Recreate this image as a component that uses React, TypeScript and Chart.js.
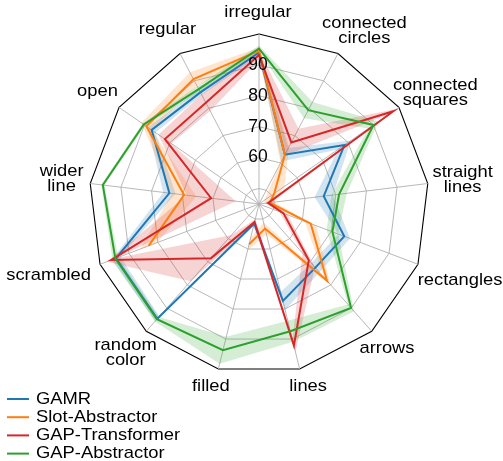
import React, { useEffect, useRef } from 'react';
import { Chart, registerables } from 'chart.js';

Chart.register(...registerables);

// ---------- data ----------
const categories: (string | string[])[] = [
  'irregular',
  ['connected', 'circles'],
  ['connected', 'squares'],
  ['straight', 'lines'],
  'rectangles',
  'arrows',
  'lines',
  'filled',
  ['random', 'color'],
  'scrambled',
  ['wider', 'line'],
  'open',
  'regular',
];

const seriesNames = ['GAMR', 'Slot-Abstractor', 'GAP-Transformer', 'GAP-Abstractor'];

const gamrMean = [94.0, 63.0, 78.6, 66.1, 74.5, 72.5, 77.3, 51.5, 94.6, 94.5, 74.2, 87.2, 85.8];
const gamrStd = [1, 2.5, 2.5, 3, 2, 2, 3, 1, 1, 1.5, 2, 1.5, 1];

const slotMean: (number | null)[] = [94.6, 63.0, 51.0, 48.5, 62.9, 78.2, 53.2, 58.4, null, 83.2, 69.4, 89.3, 90.6];
const slotStd: (number | null)[] = [1, 3, 4, 1.5, 2, 1.5, 2, 2, null, 3, 4, 2, 2.5];

const gapTMean = [93.2, 67.5, 97.8, 48.0, 53.5, 69.3, 92.2, 51.0, 68.4, 96.1, 60.6, 82.0, 82.0];
const gapTStd = [1.5, 5, 1.5, 1, 1.5, 3, 2, 1, 10, 1.5, 8, 2.5, 3];

const gapAMean = [95.3, 79.3, 90.0, 71.1, 70.4, 89.9, 87.4, 93.7, 94.8, 94.7, 95.9, 90.3, 87.0];
const gapAStd = [1, 3, 2, 2.5, 2, 1.5, 3.5, 4.5, 1, 1, 0.5, 0.5, 1];

const gridValues = [45, 50, 60, 70, 80, 90, 100];
const tickLabelValues = [60, 70, 80, 90];
const axisMin = 45;
const axisMax = 100;

const seriesColors = ['#1f77b4', '#ff7f0e', '#d62728', '#2ca02c'];
const bandColors = [
  'rgba(31,119,180,0.2)',
  'rgba(255,127,14,0.2)',
  'rgba(214,39,40,0.2)',
  'rgba(44,160,44,0.2)',
];

// ---------- layout / style constants ----------
const FONT_FAMILY = '"Liberation Sans", Arial, Helvetica, sans-serif';
const LABEL_FONT_SIZE = 17;
const LABEL_STRETCH = 1.08;
const TICK_FONT_SIZE = 17.5;
const LINE_GAP = 15;
// label centre offset beyond the outer ring: [along the spoke, across the spoke (clockwise)] in px
const labelOffsets: [number, number][] = [
  [22, -1],
  [32, 13],
  [38, 9],
  [35, 1],
  [45, 0],
  [23, 0],
  [19, -4],
  [19, 3],
  [30, 1],
  [52, 8],
  [29, 1],
  [27, 1],
  [27, 0],
];

const means = [gamrMean, slotMean, gapTMean, gapAMean];
const stds = [gamrStd, slotStd, gapTStd, gapAStd];

function drawText(ctx: CanvasRenderingContext2D, text: string, x: number, y: number, sx: number) {
  ctx.save();
  ctx.translate(x, y);
  ctx.scale(sx, 1);
  ctx.fillText(text, 0, 0);
  ctx.restore();
}

const overlayPlugin = {
  id: 'overlayText',
  afterDatasetsDraw(chart: any) {
    const scale = chart.scales.r;
    const ctx: CanvasRenderingContext2D = chart.ctx;
    ctx.save();
    ctx.fillStyle = '#000';
    ctx.textAlign = 'center';
    ctx.textBaseline = 'middle';

    // radial tick labels
    ctx.font = `${TICK_FONT_SIZE}px ${FONT_FAMILY}`;
    tickLabelValues.forEach((v) => {
      const d = scale.getDistanceFromCenterForValue(v);
      ctx.fillText(String(v), scale.xCenter - 1, scale.yCenter - d);
    });

    // category labels
    ctx.font = `${LABEL_FONT_SIZE}px ${FONT_FAMILY}`;
    categories.forEach((cat, i) => {
      const lines = Array.isArray(cat) ? cat : [cat];
      const [radial, across] = labelOffsets[i];
      const dist = scale.drawingArea + radial;
      const p = scale.getPointPosition(i, dist);
      const ux = (p.x - scale.xCenter) / dist;
      const uy = (p.y - scale.yCenter) / dist;
      const cx = p.x - uy * across;
      const cy = p.y + ux * across;
      lines.forEach((l, j) => {
        drawText(ctx, l, cx, cy - ((lines.length - 1) * LINE_GAP) / 2 + j * LINE_GAP, LABEL_STRETCH);
      });
    });

    // legend
    const lx = 7;
    const ly = 399;
    const rowH = 18.2;
    seriesNames.forEach((name, k) => {
      const y = ly + k * rowH;
      ctx.strokeStyle = seriesColors[k];
      ctx.lineWidth = 2;
      ctx.beginPath();
      ctx.moveTo(lx, y);
      ctx.lineTo(lx + 22, y);
      ctx.stroke();
      ctx.textAlign = 'left';
      ctx.fillStyle = '#000';
      drawText(ctx, name, lx + 29, y, LABEL_STRETCH);
    });
    ctx.restore();
  },
};

export default function App() {
  const canvasRef = useRef<HTMLCanvasElement | null>(null);

  useEffect(() => {
    if (!canvasRef.current) return;
    const datasets: any[] = [];
    means.forEach((m, k) => {
      const upper = m.map((v, i) => (v == null ? null : v + (stds[k][i] as number)));
      const lower = m.map((v, i) => (v == null ? null : v - (stds[k][i] as number)));
      datasets.push({
        label: seriesNames[k] + ' upper',
        data: upper,
        fill: '+1',
        backgroundColor: bandColors[k],
        borderColor: 'rgba(0,0,0,0)',
        borderWidth: 0,
        pointRadius: 0,
        spanGaps: false,
        order: 20 - k,
      });
      datasets.push({
        label: seriesNames[k] + ' lower',
        data: lower,
        fill: false,
        backgroundColor: 'rgba(0,0,0,0)',
        borderColor: 'rgba(0,0,0,0)',
        borderWidth: 0,
        pointRadius: 0,
        spanGaps: false,
        order: 20 - k,
      });
    });
    means.forEach((m, k) => {
      datasets.push({
        label: seriesNames[k],
        data: m,
        fill: false,
        borderColor: seriesColors[k],
        backgroundColor: seriesColors[k],
        borderWidth: 2,
        pointRadius: 0,
        spanGaps: false,
        order: 4 - k,
      });
    });

    const chart = new Chart(canvasRef.current, {
      type: 'radar',
      data: {
        labels: categories.map((c) => (Array.isArray(c) ? c.join(' ') : c)),
        datasets,
      },
      options: {
        animation: false,
        responsive: false,
        devicePixelRatio: 1,
        events: [],
        layout: { padding: { left: 89, right: 74, top: 34, bottom: 87 } },
        elements: { line: { tension: 0 } },
        plugins: {
          legend: { display: false },
          tooltip: { enabled: false },
          filler: { propagate: false },
        },
        scales: {
          r: {
            min: axisMin,
            max: axisMax,
            startAngle: 0,
            afterBuildTicks: (scale: any) => {
              scale.ticks = gridValues.map((v) => ({ value: v }));
            },
            ticks: { display: false },
            pointLabels: { display: false },
            grid: {
              color: (c: any) => (c.tick && c.tick.value === axisMax ? '#000000' : '#b0b0b0'),
              lineWidth: (c: any) => (c.tick && c.tick.value === axisMax ? 1.1 : 0.9),
            },
            angleLines: { color: '#b0b0b0', lineWidth: 0.9 },
          },
        },
      },
      plugins: [overlayPlugin],
    } as any);
    return () => chart.destroy();
  }, []);

  return (
    <div style={{ position: 'absolute', left: 0, top: 0, width: 503, height: 461, background: '#fff' }}>
      <canvas ref={canvasRef} width={503} height={461} style={{ width: 503, height: 461, display: 'block' }} />
    </div>
  );
}
